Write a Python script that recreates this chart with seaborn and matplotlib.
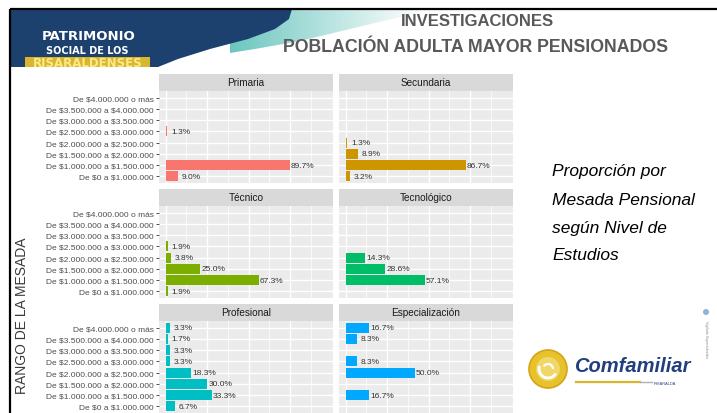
import numpy as np
import pandas as pd
import matplotlib
matplotlib.use("Agg")
import matplotlib.pyplot as plt
from matplotlib.patches import Polygon, Rectangle, Circle, Arc
import seaborn as sns

# Rangos de mesada (de arriba hacia abajo) y proporción (%) por nivel de estudios
rangos = [
    "De $4.000.000 o más",
    "De $3.500.000 a $4.000.000",
    "De $3.000.000 a $3.500.000",
    "De $2.500.000 a $3.000.000",
    "De $2.000.000 a $2.500.000",
    "De $1.500.000 a $2.000.000",
    "De $1.000.000 a $1.500.000",
    "De $0 a $1.000.000",
]
niveles = ["Primaria", "Secundaria", "Técnico", "Tecnológico", "Profesional", "Especialización"]

primaria = [None, None, None, 1.3, None, None, 89.7, 9.0]
secundaria = [None, None, None, None, 1.3, 8.9, 86.7, 3.2]
tecnico = [None, None, None, 1.9, 3.8, 25.0, 67.3, 1.9]
tecnologico = [None, None, None, None, 14.3, 28.6, 57.1, None]
profesional = [3.3, 1.7, 3.3, 3.3, 18.3, 30.0, 33.3, 6.7]
especializacion = [16.7, 8.3, None, 8.3, 50.0, None, 16.7, None]

series = [primaria, secundaria, tecnico, tecnologico, profesional, especializacion]
colores = ["#F8766D", "#CD9600", "#7CAE00", "#00BE67", "#00BFC4", "#00A9FF"]

W, H = 717, 414
plt.rcParams["font.family"] = ["Liberation Sans", "DejaVu Sans"]
plt.rcParams["text.parse_math"] = False  # los rangos llevan signos $ literales
fig = plt.figure(figsize=(W / 100, H / 100), dpi=100)
fig.patch.set_facecolor("white")

# Capa de fondo en coordenadas de píxel para el encabezado y el logo
bg = fig.add_axes([0, 0, 1, 1])
bg.set_xlim(0, W)
bg.set_ylim(H, 0)
bg.axis("off")
bg.set_zorder(0)

# Onda turquesa con degradado
grad = np.zeros((2, 200, 4))
teal = np.array([0.42, 0.78, 0.75])
alpha = np.clip(np.linspace(1.0, -0.1, 200), 0, 1)
grad[..., :3] = teal
grad[..., 3] = alpha[None, :]
im = bg.imshow(grad, extent=(230, 440, 62, 10), aspect="auto", zorder=1)
wave = Polygon([(230, 10), (440, 10), (400, 18), (350, 30), (300, 42), (255, 50), (230, 54)],
               closed=True, facecolor="none", edgecolor="none")
bg.add_patch(wave)
im.set_clip_path(wave)

# Bloque azul oscuro del encabezado
navy = Polygon([(10, 10), (292, 10), (289, 20), (275, 30), (248, 40), (210, 50),
                (178, 60), (158, 68), (10, 68)],
               closed=True, facecolor="#1C416F", edgecolor="none", zorder=2)
bg.add_patch(navy)
bg.text(89, 37, "PATRIMONIO", color="white", fontsize=9.5, fontweight="bold",
        family="DejaVu Sans", ha="center", va="center", zorder=3)
bg.text(87, 51, "SOCIAL DE LOS", color="white", fontsize=7, fontweight="bold",
        family="DejaVu Sans", ha="center", va="center", zorder=3)
bg.add_patch(Rectangle((25, 58), 125, 10, facecolor="#D9B62E", edgecolor="none", zorder=3))
bg.text(87.5, 63.5, "RISARALDENSES", color="#FBE98A", fontsize=8.5, fontweight="bold",
        family="DejaVu Sans", ha="center", va="center", zorder=4)

# Marco
bg.plot([10, W], [10, 10], color="black", lw=1.6, zorder=5, solid_capstyle="butt")
bg.plot([10, 10], [10, H], color="black", lw=1.6, zorder=5, solid_capstyle="butt")

# Títulos
bg.text(477, 22, "INVESTIGACIONES", color="#595959", fontsize=12, fontweight="bold",
        ha="center", va="center")
bg.text(476, 48, "POBLACIÓN ADULTA MAYOR PENSIONADOS", color="#595959", fontsize=12.8,
        fontweight="bold", ha="center", va="center")

# Título del eje y
bg.text(22, 316, "RANGO DE LA MESADA", color="#3A3A3A", fontsize=10, rotation=90,
        ha="center", va="center")

# Texto lateral
for yy, linea in zip([172, 201, 229, 256],
                     ["Proporción por", "Mesada Pensional", "según Nivel de", "Estudios"]):
    bg.text(552, yy, linea, color="black", fontsize=12.5, style="italic",
            ha="left", va="center")

# Logo
bg.add_patch(Circle((548, 370), 19, facecolor="#E7C22C", edgecolor="#D2A516", lw=1.2, zorder=2))
bg.add_patch(Circle((548, 370), 12, facecolor="#F1D768", edgecolor="none", zorder=3))
bg.add_patch(Arc((548, 370), 18, 18, theta1=30, theta2=200, color="white", lw=2, zorder=4))
bg.add_patch(Arc((548, 370), 10, 10, theta1=210, theta2=360, color="white", lw=1.6, zorder=4))
bg.text(574, 367, "Comfamiliar", color="#22407F", fontsize=14.5, fontweight="bold",
        style="italic", ha="left", va="center")
bg.plot([576, 640], [383, 383], color="#D9B52A", lw=1.6)
bg.plot([640, 652], [383, 383], color="#B0B0B0", lw=1.0)
bg.text(654, 384, "RISARALDA", color="#22407F", fontsize=2.8, ha="left", va="center")
bg.add_patch(Circle((706, 313), 3, facecolor="#8FB4D9", edgecolor="none"))
bg.text(706, 340, "Vigilado Supersubsidio", color="#8A8A8A", fontsize=2.6, rotation=270,
        ha="center", va="center")

# Facetas
col_left = [159, 339]
panel_w = 174
row_top = [92, 207, 322]
panel_h = 92
strip_h = 17

for k, (nivel, vals, color) in enumerate(zip(niveles, series, colores)):
    r, c = divmod(k, 2)
    ax = fig.add_axes([col_left[c] / W, 1 - (row_top[r] + panel_h) / H,
                       panel_w / W, panel_h / H])
    ax.set_zorder(2)
    df = pd.DataFrame({"rango": rangos, "valor": vals}).dropna()
    sns.barplot(data=df, x="valor", y="rango", order=rangos, color=color,
                saturation=1, width=0.9, linewidth=0, ax=ax, zorder=3)
    for v, rg in zip(df["valor"], df["rango"]):
        ax.text(v + 9.5, rangos.index(rg), f"{v:.1f}%", ha="center", va="center",
                fontsize=6, color="#333333", zorder=4)

    ax.set_facecolor("#EBEBEB")
    ax.set_xlim(-4.7, 121)
    ax.set_ylim(7.6, -0.6)
    ax.set_xticks([0, 30, 60, 90])
    ax.set_xticks([15, 45, 75, 105], minor=True)
    ax.grid(which="major", color="white", lw=1.0)
    ax.grid(which="minor", axis="x", color="white", lw=0.5)
    ax.set_axisbelow(True)
    for s in ax.spines.values():
        s.set_visible(False)
    ax.set_xlabel("")
    ax.set_ylabel("")
    ax.tick_params(axis="x", which="both", length=0, labelbottom=False)
    if c == 0:
        ax.tick_params(axis="y", length=2.5, width=0.6, color="#333333", labelsize=6,
                       labelcolor="#4D4D4D", pad=1.5)
    else:
        ax.tick_params(axis="y", length=0, labelleft=False)

    ax.add_patch(Rectangle((0, 1), 1, strip_h / panel_h, transform=ax.transAxes,
                           clip_on=False, facecolor="#D9D9D9", edgecolor="none"))
    ax.text(0.5, 1 + strip_h / panel_h / 2, nivel, transform=ax.transAxes,
            ha="center", va="center", fontsize=7.2, color="#1A1A1A")

fig.savefig("out.png", dpi=100)
